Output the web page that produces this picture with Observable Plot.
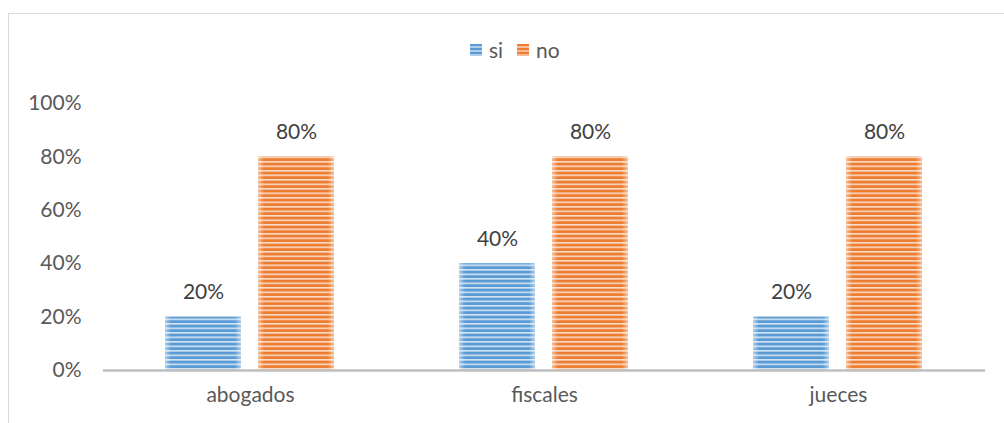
<!DOCTYPE html>
<html>
<head>
<meta charset="utf-8">
<script src="https://cdn.jsdelivr.net/npm/d3@7"></script>
<script src="https://cdn.jsdelivr.net/npm/@observablehq/plot@0.6"></script>
<style>
  html, body { margin: 0; padding: 0; background: #fff; width: 1004px; height: 423px; overflow: hidden; }
  #frame { position: absolute; left: 8px; top: 13px; width: 1100px; height: 500px; border-left: 1.5px solid #d9d9d9; border-top: 1.5px solid #d9d9d9; }
  #legend { position: absolute; left: 0; top: 37px; width: 1004px; font-family: Lato, "Open Sans", sans-serif; font-size: 21px; color: #595959; }
  .item { position: absolute; top: 0; display: flex; align-items: center; }
  .sw { width: 12px; height: 12px; margin-right: 7px; }
  #chart { position: absolute; left: 0; top: 80px; }
</style>
</head>
<body>
<div id="frame"></div>
<div id="legend"></div>
<div id="chart"></div>
<script>
const categories = ["abogados", "fiscales", "jueces"];
const series = ["si", "no"];
const siValues = [0.2, 0.4, 0.2];
const noValues = [0.8, 0.8, 0.8];
const yTicks = [0, 0.2, 0.4, 0.6, 0.8, 1.0];
const seriesColors = ["#5B9BD5", "#ED7D31"];

const rows = [];
categories.forEach((c, i) => {
  rows.push({category: c, series: "si", value: siValues[i]});
  rows.push({category: c, series: "no", value: noValues[i]});
});

const font = "Lato, 'Open Sans', sans-serif";
const plot = Plot.plot({
  width: 1004,
  height: 343,
  marginLeft: 102,
  marginRight: 19,
  marginTop: 23,
  marginBottom: 53,
  style: {fontFamily: font, fontSize: "21px", color: "#595959", background: "transparent"},
  fx: {domain: categories, padding: 0, label: null, axis: "bottom", tickSize: 0, tickPadding: 17},
  x: {domain: series, paddingInner: 0.181, paddingOuter: 0.656, axis: null},
  y: {domain: [0, 1], ticks: yTicks, tickFormat: d3.format(".0%"), tickSize: 0, tickPadding: 22, label: null},
  marks: [
    Plot.barY(rows.filter(d => d.series === "si"), {fx: "category", x: "series", y: "value", fill: "url(#psi)"}),
    Plot.barY(rows.filter(d => d.series === "no"), {fx: "category", x: "series", y: "value", fill: "url(#pno)"}),
    Plot.barY(rows, {fx: "category", x: "series", y: "value", fill: "url(#edge)"}),
    Plot.text(rows, {fx: "category", x: "series", y: "value", text: d => d3.format(".0%")(d.value), lineAnchor: "bottom", dy: -18, fill: "#404040", fontSize: 21}),
    Plot.ruleY([0], {stroke: "#bfbfbf", strokeWidth: 2.5})
  ]
});

const ns = "http://www.w3.org/2000/svg";
const defs = document.createElementNS(ns, "defs");
function stripePattern(id, color) {
  const p = document.createElementNS(ns, "pattern");
  p.setAttribute("id", id);
  p.setAttribute("patternUnits", "userSpaceOnUse");
  p.setAttribute("width", 10);
  p.setAttribute("height", 4.5);
  const r = document.createElementNS(ns, "rect");
  r.setAttribute("width", 10); r.setAttribute("height", 4.5); r.setAttribute("fill", color);
  const l = document.createElementNS(ns, "rect");
  l.setAttribute("y", 0); l.setAttribute("width", 10); l.setAttribute("height", 1.6);
  l.setAttribute("fill", "#ffffff"); l.setAttribute("fill-opacity", 0.72);
  p.appendChild(r); p.appendChild(l);
  return p;
}
defs.appendChild(stripePattern("psi", seriesColors[0]));
defs.appendChild(stripePattern("pno", seriesColors[1]));
const g = document.createElementNS(ns, "linearGradient");
g.setAttribute("id", "edge");
[[0, 0.5], [0.08, 0], [0.92, 0], [1, 0.5]].forEach(([o, a]) => {
  const s = document.createElementNS(ns, "stop");
  s.setAttribute("offset", o); s.setAttribute("stop-color", "#fff"); s.setAttribute("stop-opacity", a);
  g.appendChild(s);
});
defs.appendChild(g);
plot.insertBefore(defs, plot.firstChild);
document.getElementById("chart").appendChild(plot);

// legend
const legend = document.getElementById("legend");
const legendX = [470, 517];
series.forEach((s, i) => {
  const item = document.createElement("div");
  item.className = "item";
  item.style.left = legendX[i] + "px";
  const sw = document.createElement("div");
  sw.className = "sw";
  sw.style.background = `repeating-linear-gradient(to bottom, ${seriesColors[i]} 0 2.5px, rgba(255,255,255,0.5) 2.5px 4px)`;
  sw.style.backgroundColor = seriesColors[i];
  const t = document.createElement("span");
  t.textContent = s;
  item.appendChild(sw); item.appendChild(t);
  legend.appendChild(item);
});
</script>
</body>
</html>
